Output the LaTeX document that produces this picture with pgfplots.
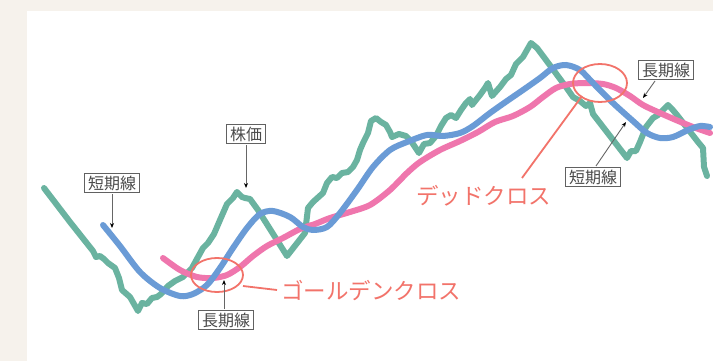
\documentclass[border=0pt]{standalone}
\usepackage{fontspec}
\usepackage{pgfplots}
\pgfplotsset{compat=1.18}
\usetikzlibrary{arrows.meta}
\newfontfamily\jp{Noto Sans CJK JP}
\definecolor{bgc}{HTML}{F6F2EC}
\definecolor{price}{HTML}{6AB3A0}
\definecolor{shortma}{HTML}{6A9BD6}
\definecolor{longma}{HTML}{EF76AD}
\definecolor{cross}{HTML}{F2736A}
\definecolor{labtxt}{HTML}{4A4A4A}

\begin{document}
\begin{tikzpicture}[
  box/.style={draw=black!62, fill=white, line width=0.9pt, text=labtxt,
    font=\jp\fontsize{16}{17}\selectfont, inner xsep=3.5pt, inner ysep=2pt},
  pin/.style={draw=black!60, line width=0.9pt, -{Stealth[length=5pt,width=4pt,black]}},
  big/.style={text=cross, font=\jp\fontsize{22.5}{24}\selectfont, inner sep=0pt, anchor=west}
]
\begin{axis}[
  width=713pt, height=361pt, scale only axis,
  xmin=0, xmax=713, ymin=0, ymax=361, y dir=reverse,
  hide axis, clip=false
]
\fill[bgc] (0,0) rectangle (713,361);
\fill[white] (27,11) rectangle (713,361);

% stock price
\addplot[price, line width=6pt, line join=round, line cap=round] coordinates {
(44,188) (70,222) (93,251) (96,257) (100,256) (104,259) (108,263) (115,268)
(119,278) (122,290) (130,297) (138,311) (142,303) (147,304) (152,298) (157,297)
(161,294) (168,286) (175,281) (183,277) (192,268) (198,257) (203,248) (208,243)
(214,234) (220,220) (227,204) (233,198) (237,192) (242,197) (245,198) (250,199)
(258,210) (287,256) (305,233) (308,208) (313,202) (323,193) (327,183) (332,177)
(337,178) (342,173) (348,172) (353,167) (357,160) (360,150) (363,143) (368,133)
(371,121) (376,118) (381,122) (386,125) (390,132) (392,137) (399,134)
(406,136) (411,141) (419,153) (424,144) (430,143) (436,136) (441,126) (446,118)
(451,115) (456,118) (461,110) (466,103) (470,99) (472,105) (480,95) (485,88)
(488,83) (492,96) (500,87) (506,79) (511,75) (516,64) (523,57) (531,43)
(537,48) (546,60) (566,87) (573,97) (580,101) (586,106) (590,103) (593,114)
(627,158) (631,151) (636,151) (640,142) (646,127) (653,118) (658,115) (664,109)
(668,105) (672,109) (677,115) (698,142) (703,148) (704,167) (707,176)
};

% long-term MA
\addplot[longma, line width=6pt, smooth, line cap=round] coordinates {
(163,258) (180,270) (197,277) (213,278) (227,275) (240,267) (253,256) (267,246)
(283,238) (300,229) (315,224) (330,218) (350,212) (370,205) (390,190) (407,173)
(420,162) (440,150) (460,141) (478,132) (495,122) (513,116) (530,107)
(543,97) (556,88) (570,84) (586,83) (603,84) (616,88) (630,96) (643,105)
(660,113) (676,120) (693,127) (710,133)
};

% short-term MA
\addplot[shortma, line width=6pt, smooth, line cap=round] coordinates {
(103,225) (120,246) (140,272) (160,288) (180,296) (193,294) (207,285) (220,268)
(233,248) (247,228) (260,214) (273,211) (290,217) (303,227) (313,230) (327,227)
(340,213) (357,190) (373,167) (390,150) (407,142) (427,135)
(443,136) (460,133) (473,126) (490,113) (507,101) (523,90) (540,78) (553,68)
(566,65) (580,70) (593,83) (613,103) (633,121) (647,133) (660,138) (673,137)
(688,130) (700,126) (710,127)
};

% crosses
\draw[cross, line width=1.8pt] (217,275) ellipse [x radius=26pt, y radius=17pt];
\draw[cross, line width=1.8pt] (243,286) -- (277,290);
\node[big] at (281,291) {ゴールデンクロス};
\draw[cross, line width=1.8pt] (600,83) ellipse [x radius=27pt, y radius=19pt];
\draw[cross, line width=1.8pt] (582,96) -- (522,178);
\node[big] at (416,196) {デッドクロス};

% labels
\node[box] at (112,183) {短期線};
\draw[pin] (112,194) -- (112,228);
\node[box] at (246,134) {株価};
\draw[pin] (246,145) -- (246,188);
\node[box] at (226,320) {長期線};
\draw[pin] (224,309) -- (224,280);
\node[box] at (666,70) {長期線};
\draw[pin] (655,81) -- (643,98);
\node[box] at (593,177) {短期線};
\draw[pin] (596,166) -- (626,122);
\end{axis}
\end{tikzpicture}
\end{document}
